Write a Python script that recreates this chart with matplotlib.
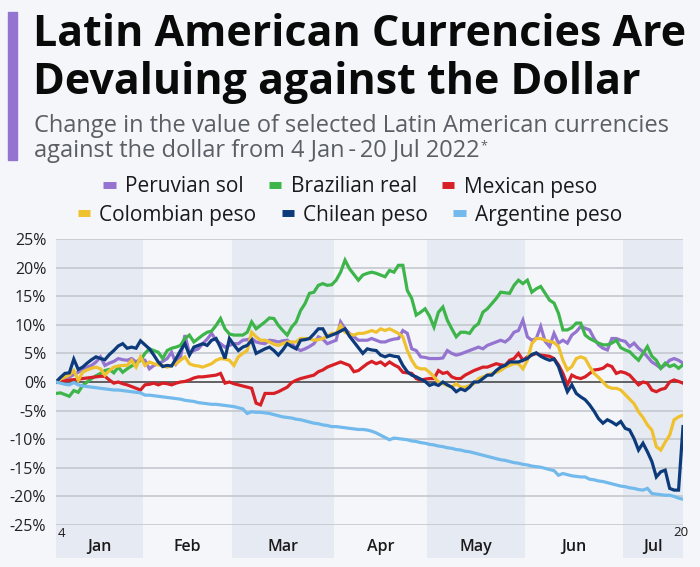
import numpy as np
import pandas as pd
import matplotlib
matplotlib.use("Agg")
import matplotlib.pyplot as plt
from matplotlib.lines import Line2D
from matplotlib.patches import Rectangle
from matplotlib.transforms import blended_transform_factory

plt.rcParams['font.family'] = ['Open Sans', 'DejaVu Sans']

# business days 4 Jan - 20 Jul 2022, % change vs the dollar
days = pd.bdate_range("2022-01-04", "2022-07-20")

peruvian_sol = [
    0.0, 0.6, 0.8, 0.9, 1.3, 1.7, 2.3, 2.6, 2.9, 3.5, 4.4, 2.9, 3.3, 3.6, 4.1, 3.9, 3.8, 4.1, 3.5, 4.0,
    3.8, 2.3, 2.9, 3.2, 3.6, 4.1, 5.2, 3.2, 4.4, 8.2, 5.0, 5.5, 5.8, 6.7, 7.5, 8.5, 7.3, 6.7, 6.1, 6.4,
    6.7, 6.7, 7.3, 7.4, 7.6, 7.0, 6.8, 6.7, 7.3, 7.2, 7.0, 7.2, 7.3, 6.7, 5.9, 5.5, 5.8, 6.2, 6.7, 7.9, 7.5, 6.7, 7.0,
    7.3, 10.5, 9.3, 8.5, 7.9, 7.3, 7.3, 7.3, 7.6, 7.3, 7.0, 7.0, 7.3, 7.5, 7.6, 9.0, 8.5, 5.8, 5.5, 4.4, 4.3,
    4.1, 4.1, 4.1, 4.2, 5.5, 5.0, 4.7, 4.9, 5.2, 5.5, 5.8, 6.1, 5.8, 6.4, 6.7, 7.0, 7.3, 7.0, 7.6, 8.7, 9.0, 10.8,
    7.9, 7.3, 7.6, 9.7, 7.1, 6.2, 8.5, 6.8, 7.3, 6.8, 8.2, 8.8, 9.7, 9.4, 9.1, 7.6, 6.5, 5.9, 5.6, 7.6, 7.6, 7.3,
    7.1, 6.2, 6.8, 5.9, 5.3, 4.4, 3.5, 3.0, 2.4, 3.0, 3.8, 4.1, 3.8, 3.3,
]
brazilian_real = [
    -2.0, -1.9, -2.2, -2.5, -1.5, -1.8, -0.6, 0.0, 0.6, 1.1, 1.5, 2.0, 2.2, 1.6, 2.6, 1.7, 2.3, 2.8, 3.2, 3.8,
    5.0, 5.8, 5.5, 5.2, 4.1, 5.5, 5.9, 6.1, 6.4, 7.6, 8.2, 7.0, 7.6, 8.2, 8.7, 8.9, 9.9, 11.1, 9.3, 8.4,
    8.2, 8.2, 8.2, 8.7, 10.5, 9.3, 9.9, 10.5, 11.2, 11.1, 9.9, 9.0, 8.2, 9.6, 10.5, 12.5, 13.7, 15.5, 15.7, 16.9, 17.2, 16.9, 17.0,
    17.8, 19.2, 21.3, 19.8, 18.8, 17.8, 18.7, 19.0, 19.2, 19.0, 18.7, 18.4, 19.5, 19.2, 20.4, 20.4, 16.0, 14.6, 11.7, 12.2, 12.8,
    11.5, 9.6, 12.2, 13.1, 10.8, 9.3, 7.9, 8.7, 8.7, 8.5, 9.6, 10.2, 12.2, 12.8, 13.7, 14.6, 15.7, 15.6, 15.5, 16.9, 17.8, 17.2,
    17.8, 15.7, 16.3, 16.7, 15.5, 14.3, 13.8, 12.0, 9.1, 9.1, 9.5, 10.3, 10.3, 8.2, 7.6, 7.2, 6.8, 6.5, 6.5, 6.8, 7.3, 6.0,
    5.6, 5.3, 4.5, 3.8, 5.0, 6.2, 4.5, 3.8, 2.4, 3.3, 2.7, 3.0, 2.4, 3.0,
]
mexican_peso = [
    0.0, 0.1, 0.2, 0.35, 0.4, 0.5, 0.6, 0.7, 0.8, 0.9, 1.0, 1.0, 0.35, -0.2, 0.0, -0.3, -0.5, -0.8, -1.1, -1.4,
    -0.5, -0.4, -0.2, -0.5, -0.2, -0.3, -0.5, -0.2, 0.0, 0.1, 0.35, 0.7, 0.9, 0.9, 1.0, 1.1, 1.2, 1.5, -0.2, 0.0,
    -0.3, -0.5, -0.7, -0.9, -1.1, -3.7, -4.0, -2.0, -2.0, -2.0, -1.7, -1.3, -0.9, -0.1, 0.3, 0.6, 0.8, 1.0, 1.2, 1.8, 2.1, 2.6, 2.9,
    3.2, 3.5, 3.2, 2.9, 1.8, 2.0, 2.6, 3.2, 3.6, 3.2, 3.5, 2.9, 3.5, 3.0, 2.6, 1.7, 1.6, 1.5, 0.6, 0.3, 0.5,
    0.6, 0.6, 2.0, 1.5, 1.7, 0.9, 0.6, 0.6, 1.2, 1.6, 2.0, 2.3, 2.6, 2.6, 2.9, 3.2, 3.0, 2.9, 3.8, 4.1, 5.0, 3.8,
    4.4, 4.7, 5.0, 4.7, 4.6, 4.5, 4.1, 3.0, 1.5, -0.5, 1.2, 0.8, 0.6, 0.9, 1.5, 2.1, 2.2, 2.4, 3.0, 2.7, 1.5, 1.8,
    1.6, 1.2, 0.35, -0.5, 0.0, -0.2, -1.4, -1.7, -1.3, -1.1, 0.0, 0.35, 0.1, -0.2,
]
colombian_peso = [
    0.0, 0.5, 0.9, 1.2, 2.0, 0.3, 1.7, 2.1, 2.4, 2.6, 2.3, 1.2, 2.0, 2.6, 2.8, 2.9, 2.9, 3.8, 2.6, 4.4,
    2.9, 3.5, 3.2, 3.0, 2.9, 2.6, 2.9, 3.2, 3.8, 4.4, 3.2, 2.9, 2.8, 2.6, 2.9, 3.2, 3.8, 4.1, 4.0, 3.8,
    2.9, 4.4, 5.0, 5.5, 8.7, 7.9, 7.3, 7.3, 7.0, 6.6, 6.4, 6.7, 7.0, 7.0, 7.0, 7.6, 7.6, 7.6, 7.3, 7.4, 7.6, 8.0, 8.5,
    8.5, 9.9, 8.7, 8.4, 8.2, 8.5, 8.5, 8.7, 9.0, 8.7, 9.3, 9.0, 9.3, 8.9, 8.5, 7.9, 5.5, 3.8, 2.6, 2.3, 2.3,
    1.7, 0.9, 0.0, -0.3, -0.6, -0.9, -0.3, -0.9, -0.9, -0.6, -0.3, 0.6, 0.9, 1.2, 1.5, 1.7, 2.0, 2.6, 2.9, 3.2, 3.2, 2.3,
    3.8, 6.7, 7.6, 7.6, 7.3, 7.1, 6.9, 6.2, 3.8, 2.1, 2.7, 4.1, 4.4, 4.1, 2.7, 1.5, 0.8, 0.0, -0.8, -1.1, -1.1, -1.4,
    -2.2, -3.0, -3.8, -5.2, -6.2, -7.5, -8.4, -11.3, -11.9, -10.5, -9.3, -6.6, -6.1, -5.8,
]
chilean_peso = [
    0.0, 0.8, 1.5, 1.6, 4.0, 2.2, 2.6, 3.3, 3.9, 4.4, 4.1, 3.9, 4.8, 5.5, 6.3, 6.7, 5.9, 6.1, 5.9, 7.2,
    6.5, 5.8, 4.7, 3.5, 2.7, 2.9, 2.8, 4.1, 5.5, 6.7, 4.7, 6.1, 6.4, 6.7, 6.4, 7.3, 7.6, 6.0, 4.1, 7.6,
    6.5, 5.5, 6.1, 6.4, 7.3, 5.0, 5.4, 5.8, 6.1, 5.5, 4.7, 5.6, 6.7, 6.2, 5.8, 7.3, 7.4, 7.6, 8.4, 9.3, 9.3, 7.9, 8.2,
    8.5, 8.9, 9.3, 8.0, 7.0, 6.0, 5.0, 5.8, 5.6, 5.5, 4.7, 4.4, 4.7, 4.5, 4.4, 2.9, 1.8, 1.2, 0.9, 0.5, 0.1,
    -0.6, -0.3, -0.6, 0.0, -0.5, -0.9, -1.7, -1.2, -1.5, -0.9, 0.0, 0.0, 0.6, 1.2, 1.2, 2.0, 2.6, 2.9, 3.5, 3.5, 3.5, 3.8,
    4.1, 4.8, 5.1, 4.5, 4.1, 3.8, 4.0, 2.7, 0.4, -1.7, -0.5, -2.0, -2.6, -3.1, -4.0, -5.1, -6.4, -7.2, -6.6, -7.0, -7.5, -6.9,
    -8.1, -8.4, -9.9, -11.9, -10.7, -12.2, -13.9, -16.6, -15.7, -15.4, -18.6, -18.9, -18.9, -7.8,
]
argentine_peso = [
    0.0, -0.2, -0.4, -0.5, -0.1, -0.5, -0.7, -0.8, -0.9, -1.0, -1.1, -1.2, -1.3, -1.4, -1.4, -1.5, -1.6, -1.7, -1.8, -1.9,
    -2.3, -2.3, -2.4, -2.5, -2.6, -2.7, -2.8, -2.9, -3.0, -3.2, -3.3, -3.4, -3.6, -3.7, -3.8, -3.9, -3.9, -4.0, -4.1, -4.2,
    -4.3, -4.5, -4.7, -5.5, -5.2, -5.3, -5.3, -5.4, -5.5, -5.7, -5.9, -6.1, -6.2, -6.3, -6.5, -6.6, -6.8, -7.0, -7.2, -7.3, -7.5, -7.6, -7.8,
    -7.8, -7.9, -8.0, -8.1, -8.2, -8.3, -8.3, -8.4, -8.6, -8.9, -9.3, -9.7, -10.1, -9.8, -9.9, -10.0, -10.1, -10.3, -10.4, -10.6, -10.7,
    -10.9, -11.0, -11.2, -11.3, -11.5, -11.6, -11.8, -11.9, -12.1, -12.2, -12.4, -12.6, -12.8, -13.0, -13.2, -13.4, -13.6, -13.7, -13.9, -14.1, -14.2, -14.4,
    -14.5, -14.7, -14.8, -14.9, -15.1, -15.3, -15.5, -16.3, -16.0, -16.2, -16.4, -16.5, -16.6, -16.6, -17.0, -17.1, -17.3, -17.4, -17.6, -17.8, -18.0, -18.2,
    -18.3, -18.5, -18.6, -18.8, -18.9, -18.6, -19.5, -19.6, -19.7, -19.8, -19.8, -20.0, -20.3, -20.5,
]

names = ["Peruvian sol", "Brazilian real", "Mexican peso",
         "Colombian peso", "Chilean peso", "Argentine peso"]
colors = ["#9474d0", "#3db54a", "#d81f26", "#f0c12e", "#0c3a7a", "#72b9ec"]
values = [peruvian_sol, brazilian_real, mexican_peso,
          colombian_peso, chilean_peso, argentine_peso]
yticks = list(range(-25, 30, 5))

BG = "#f4f6f9"
BAND = "#e6eaf2"
W, H = 700, 567
fig = plt.figure(figsize=(7, 5.67), dpi=100, facecolor=BG)

# title block, one line at a time (baselines in pixels from the top)
fig.patches.append(Rectangle((8/W, 1-160/H), 9/W, 148/H, transform=fig.transFigure,
                             color="#9474d0", zorder=0))
for txt, base in (("Latin American Currencies Are", 46), ("Devaluing against the Dollar", 94)):
    fig.text(33/W, 1-base/H, txt, ha='left', va='baseline', fontsize=31,
             weight='bold', color='#0a0a0a')
fig.text(34/W, 1-132/H, "Change in the value of selected Latin American currencies",
         ha='left', va='baseline', fontsize=17, color='#5a5f66')
sub2 = fig.text(34/W, 1-157/H, "against the dollar from 4 Jan\u2009-\u200920 Jul 2022",
                ha='left', va='baseline', fontsize=17, color='#5a5f66')
fig.canvas.draw()
bb = sub2.get_window_extent()
# superscript asterisk right after "2022"
fig.text((bb.x1 + 1)/W, 1-149/H, "*", ha='left', va='baseline', fontsize=9, color='#5a5f66')

ax = fig.add_axes([56/W, 1-525/H, 627/W, 286/H])
ax.set_facecolor(BG)
x = np.arange(len(days))
ax.set_xlim(0, len(days)-1)
ax.set_ylim(-25, 25)

trans = blended_transform_factory(ax.transData, ax.transAxes)
months = days.to_period("M")
for k, m in enumerate(months.unique()):
    idx = np.where(months == m)[0]
    lo = max(idx[0]-0.5, 0)
    hi = min(idx[-1]+0.5, len(days)-1)
    if k % 2 == 0:
        ax.add_patch(Rectangle((lo, -0.115), hi-lo, 1.115, transform=trans,
                               color=BAND, clip_on=False, zorder=0, lw=0))
    ax.text((lo+hi)/2, -0.078, m.strftime('%b'), transform=trans, ha='center',
            va='center', fontsize=11.5, weight='semibold', color='#1a1a1a')
ax.text(0.3, -0.03, str(days[0].day), transform=trans, ha='left', va='center',
        fontsize=9.5, color='#1a1a1a')
ax.text(len(days)-1.5, -0.025, str(days[-1].day), transform=trans, ha='center', va='center',
        fontsize=9.5, color='#1a1a1a')

for v in yticks:
    ax.axhline(v, color='#3a3a3a' if v == 0 else '#c4c8ce', lw=1.1 if v == 0 else 1.2, zorder=1)

for name, vals, c in zip(names, values, colors):
    ax.plot(x, vals, color=c, lw=2.3, zorder=3, solid_joinstyle='miter')

ax.set_xticks([])
ax.set_yticks(yticks)
ax.set_yticklabels([f"{v}%" for v in yticks])
ax.tick_params(axis='y', length=0, pad=7, labelsize=11.5, labelcolor='#222222')
for s in ax.spines.values():
    s.set_visible(False)

# legend in two centred rows
handles = [Line2D([], [], color=c, lw=5, solid_capstyle='butt') for c in colors]
for row, ypos in ((0, 1-187/H), (1, 1-215/H)):
    sl = slice(row*3, row*3+3)
    fig.legend(handles[sl], names[sl], loc='center', bbox_to_anchor=(0.5, ypos), ncol=3,
               frameon=False, fontsize=15, handlelength=0.6, handletextpad=0.45,
               columnspacing=1.2, labelcolor='#1a1a1a', borderpad=0.1)

fig.savefig("out.png", dpi=100, facecolor=BG)
